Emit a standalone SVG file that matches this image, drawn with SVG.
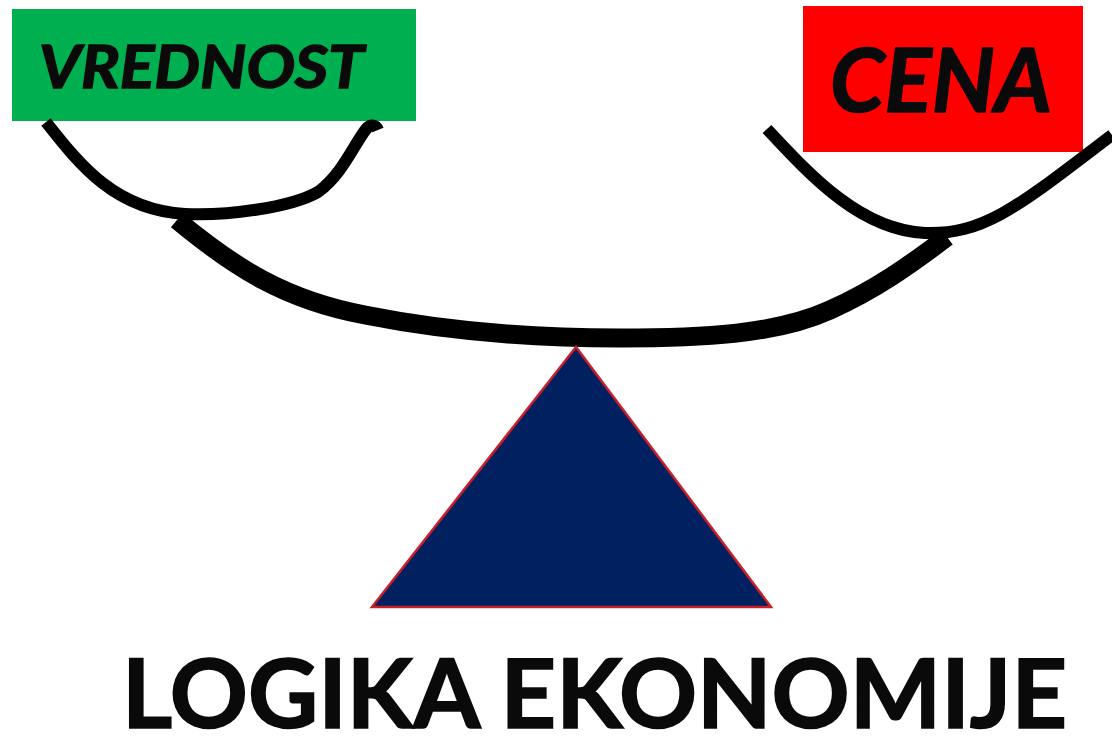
<svg xmlns="http://www.w3.org/2000/svg" width="1112" height="736" viewBox="0 0 1112 736">
<style>
text{font-family:Lato,"Open Sans",sans-serif;font-weight:700;fill:#0a0a0a;stroke:#0a0a0a;stroke-width:1.6}
.l{fill:none;stroke:#000;stroke-linecap:butt}
</style>
<rect width="1112" height="736" fill="#fff"/>
<g id="vrednost"><rect x="12" y="9" width="404" height="112" fill="#00b050"/>
<text x="39" y="88" font-size="60" font-style="italic" textLength="325" lengthAdjust="spacingAndGlyphs">VREDNOST</text></g>
<g id="cena"><rect x="803" y="6" width="280" height="146" fill="#f00"/>
<text x="830" y="112" font-size="88" font-style="italic" textLength="222" lengthAdjust="spacingAndGlyphs">CENA</text></g>
<g id="connectors">
<path class="l" stroke-width="12" d="M46 122C80 165 115 210 185 214C225 216 290 208 318 192C343 174 355 142 367 128C371 124 376 125 378 130"/>
<path class="l" stroke-width="12" d="M767 129C810 175 860 230 925 233C985 235 1020 205 1112 135"/>
<path class="l" stroke-width="19" d="M177 220C235 268 285 300 365 315C440 330 530 338 620 338C700 338 775 335 830 310C875 290 910 265 947 237"/>
</g>
<g id="triangle"><polygon points="576,347 771,607 372,607" fill="#002060" stroke="#c8202a" stroke-width="2.5"/></g>
<g id="title"><text x="122" y="728" font-size="95" textLength="945" lengthAdjust="spacingAndGlyphs">LOGIKA EKONOMIJE</text></g>
</svg>
